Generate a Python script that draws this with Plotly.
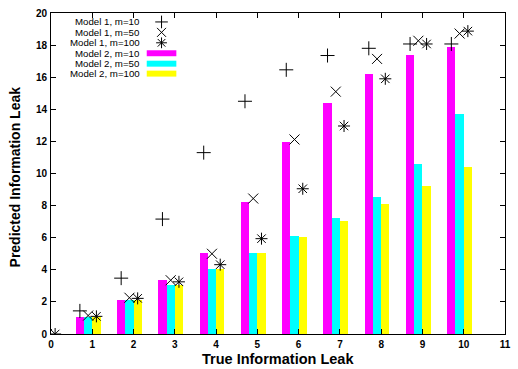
import plotly.graph_objects as go

# ---- data ----
x_vals = [0, 1, 2, 3, 4, 5, 6, 7, 8, 9, 10]
m1_10 = [0, 1.44, 3.48, 7.16, 11.3, 14.5, 16.46, 17.35, 17.8, 18.07, 18.07]
m1_50 = [0, 1.15, 2.26, 3.35, 5.0, 8.44, 12.12, 15.1, 17.14, 18.27, 18.72]
m1_100 = [0, 1.1, 2.22, 3.25, 4.32, 5.94, 9.05, 12.96, 15.9, 18.07, 18.87]
m2_10 = [0, 1.05, 2.1, 3.35, 5.05, 8.2, 11.98, 14.38, 16.23, 17.37, 17.9]
m2_50 = [0, 1.03, 2.1, 3.04, 4.03, 5.06, 6.12, 7.22, 8.54, 10.6, 13.68]
m2_100 = [0, 1.03, 2.1, 3.04, 4.03, 5.06, 6.05, 7.04, 8.1, 9.2, 10.43]
x_ticks = list(range(0, 12))
y_ticks = list(range(0, 21, 2))

names_m1 = ["Model 1, m=10", "Model 1, m=50", "Model 1, m=100"]
names_m2 = ["Model 2, m=10", "Model 2, m=50", "Model 2, m=100"]

# ---- styles ----
W, H = 518, 369
L, R, T, B = 51, 7, 11, 35
PW, PH = W - L - R, H - T - B
FONT = "Liberation Sans, Arial, sans-serif"
offsets = [-0.3, -0.1, 0.1]
bar_colors = ["#ff00ff", "#00ffff", "#ffff00"]
symbols = ["cross-thin-open", "x-thin-open", "asterisk-open"]
bar_w = 0.2

fig = go.Figure()

for vals, off, col, nm in zip([m2_10, m2_50, m2_100], offsets, bar_colors, names_m2):
    fig.add_trace(go.Bar(
        x=x_vals, y=vals, width=bar_w, offset=off - bar_w / 2,
        marker=dict(color=col, line=dict(width=0)), name=nm, showlegend=False))

for vals, off, sym, nm in zip([m1_10, m1_50, m1_100], offsets, symbols, names_m1):
    fig.add_trace(go.Scatter(
        x=[v + off for v in x_vals], y=vals, mode="markers", name=nm,
        marker=dict(symbol=sym, size=10, color="black", line=dict(width=1, color="black")),
        showlegend=False))

# ---- gnuplot-style key (text right-aligned, sample on the right) ----
def px2paper(px, py):
    return (px - L) / PW, (H - B - py) / PH

rows_y = [20, 30.5, 41, 51.5, 62, 72]
text_right = 142
samp_x0, samp_x1 = 148, 178
samp_cx = 163
all_names = names_m1 + names_m2
for i, nm in enumerate(all_names):
    tx, ty = px2paper(text_right, rows_y[i])
    fig.add_annotation(x=tx, y=ty, xref="paper", yref="paper", text=nm,
                       showarrow=False, xanchor="right", yanchor="middle", borderpad=0,
                       font=dict(family=FONT, size=9.7, color="black"))
for i in range(3):
    x0, y0 = px2paper(samp_x0, rows_y[3 + i] - 3)
    x1, y1 = px2paper(samp_x1, rows_y[3 + i] + 3)
    fig.add_shape(type="rect", xref="paper", yref="paper", x0=x0, x1=x1, y0=y1, y1=y0,
                  fillcolor=bar_colors[i], line=dict(width=0))
for i in range(3):
    sx, sy = px2paper(samp_cx, rows_y[i])
    fig.add_trace(go.Scatter(
        x=[sx], y=[sy], xaxis="x2", yaxis="y2", mode="markers", showlegend=False,
        hoverinfo="skip",
        marker=dict(symbol=symbols[i], size=9, color="black", line=dict(width=1, color="black"))))

axis_common = dict(showline=True, linecolor="black", linewidth=1, mirror="ticks",
                   ticks="inside", ticklen=5, tickcolor="black", tickwidth=1,
                   showgrid=False, zeroline=False,
                   tickfont=dict(family=FONT, size=10, color="black", weight="bold"))

fig.update_layout(
    width=W, height=H,
    margin=dict(l=L, r=R, t=T, b=B),
    paper_bgcolor="white", plot_bgcolor="white",
    barmode="overlay", bargap=0,
    xaxis=dict(range=[0, 11], tickvals=x_ticks, ticklabelstandoff=1, **axis_common),
    yaxis=dict(range=[0, 20], tickvals=y_ticks, ticklabelstandoff=1, **axis_common),
    xaxis2=dict(range=[0, 1], overlaying="x", visible=False, fixedrange=True),
    yaxis2=dict(range=[0, 1], overlaying="y", visible=False, fixedrange=True),
    showlegend=False,
)

fig.add_annotation(x=(281 - L) / PW, y=(H - B - 359) / PH, xref="paper", yref="paper",
                   text="<b>True Information Leak</b>", showarrow=False,
                   xanchor="center", yanchor="middle",
                   font=dict(family=FONT, size=14.5, color="black"))
fig.add_annotation(x=(14 - L) / PW, y=(H - B - 176) / PH, xref="paper", yref="paper",
                   text="<b>Predicted Information Leak</b>", showarrow=False, textangle=-90,
                   xanchor="center", yanchor="middle",
                   font=dict(family=FONT, size=14, color="black"))

fig.write_html("out.html", config={"displayModeBar": False},
               post_script="document.body.style.margin='0';document.body.style.padding='0';")
